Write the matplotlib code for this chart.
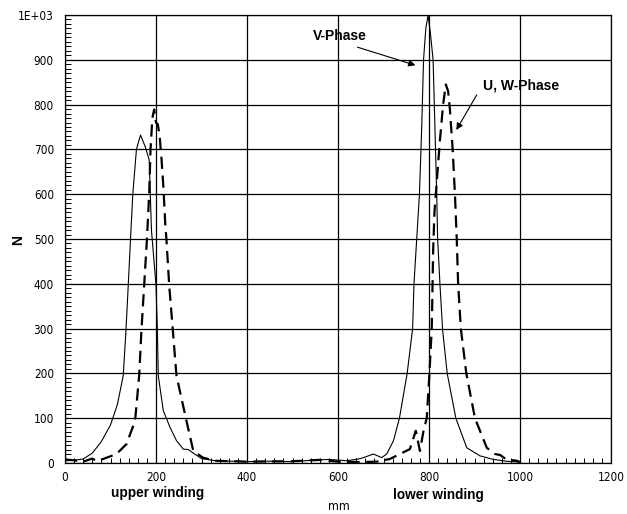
import numpy as np
import matplotlib.pyplot as plt
from matplotlib.ticker import MultipleLocator, FixedLocator

# V-Phase (solid line)
v_x = [0, 20, 40, 60, 80, 100, 115, 128, 134, 139, 145, 149, 157, 166, 176, 185,
       190, 200, 203, 205, 216, 231, 245, 260, 271, 285, 300, 330, 400, 450, 500,
       540, 580, 620, 650, 678, 696, 707, 722, 735, 752, 764, 767, 773, 779, 784,
       788, 793, 798, 803, 809, 813, 817, 819, 824, 830, 840, 859, 883, 912, 941,
       970, 1000]
v_y = [5, 6, 9, 22, 48, 85, 130, 195, 296, 397, 520, 600, 700, 732, 707, 677,
       520, 397, 296, 195, 117, 79, 50, 31, 30, 20, 10, 5, 3, 4, 3,
       6, 8, 5, 10, 20, 12, 20, 50, 100, 200, 300, 400, 500, 600, 750,
       900, 970, 1000, 960, 900, 750, 600, 500, 400, 296, 200, 100, 34, 16, 8,
       4, 2]

# U, W-Phase (dashed line)
uw_x = [0, 20, 40, 60, 70, 84, 113, 135, 154, 163, 168, 174, 180, 185, 188,
        192, 196, 200, 204, 208, 212, 216, 220, 223, 229, 237, 245, 267, 282,
        303, 330, 400, 500, 560, 600, 650, 685, 714, 736, 758, 771, 780, 788,
        795, 801, 806, 807, 809, 812, 818, 824, 831, 837, 842, 846, 852, 857,
        861, 864, 870, 882, 901, 927, 945, 956, 970, 993, 1000]
uw_y = [8, 6, 3, 10, 4, 9, 20, 42, 94, 195, 296, 397, 498, 600, 700,
        770, 789, 760, 756, 730, 680, 620, 540, 498, 397, 296, 195, 94, 27,
        12, 5, 3, 4, 7, 3, 2, 3, 9, 20, 31, 72, 27, 72,
        100, 200, 300, 350, 470, 560, 640, 720, 800, 845, 830, 789, 700, 600,
        500, 400, 300, 200, 100, 34, 20, 18, 8, 5, 2]

x_ticks = [0, 200, 400, 600, 800, 1000, 1200]
y_ticks = [0, 100, 200, 300, 400, 500, 600, 700, 800, 900, 1000]
y_labels = ['0', '100', '200', '300', '400', '500', '600', '700', '800', '900', '1E+03']

plt.rcParams['font.family'] = ['DejaVu Sans']
bold_font = ['Liberation Sans', 'DejaVu Sans']

fig = plt.figure(figsize=(6.27, 5.14), dpi=100)
ax = fig.add_axes([65 / 627, 1 - 463 / 514, 546 / 627, 448 / 514])

ax.plot(v_x, v_y, color='black', linewidth=0.8)
ax.plot(uw_x, uw_y, color='black', linewidth=1.6, linestyle=(0, (5.5, 3)))

ax.set_xlim(0, 1200)
ax.set_ylim(0, 1000)
ax.xaxis.set_major_locator(FixedLocator(x_ticks))
ax.yaxis.set_major_locator(FixedLocator(y_ticks))
ax.set_yticklabels(y_labels)
ax.xaxis.set_minor_locator(MultipleLocator(20))
ax.yaxis.set_minor_locator(MultipleLocator(10))
ax.tick_params(which='both', direction='in', labelsize=8.5, color='black')
ax.tick_params(which='major', length=0, pad=8)
ax.tick_params(axis='x', which='major', pad=6)
ax.tick_params(axis='y', which='minor', length=4.5, width=0.7)
ax.tick_params(axis='x', which='minor', length=3.5, width=0.7)
for lab in ax.get_xticklabels() + ax.get_yticklabels():
    lab.set_fontstretch('condensed')
ax.grid(True, which='major', color='black', linewidth=0.9)
for s in ax.spines.values():
    s.set_linewidth(0.9)

# annotations
ax.text(545, 953, 'V-Phase', fontsize=10, fontweight='bold',
        family=bold_font, va='center', ha='left')
ax.annotate('', xy=(776, 886), xytext=(637, 930),
            arrowprops=dict(arrowstyle='-|>', color='black', lw=0.8,
                            mutation_scale=10))
ax.text(1002, 843, 'U, W-Phase', fontsize=10, fontweight='bold',
        family=bold_font, va='center', ha='center')
ax.annotate('', xy=(857, 738), xytext=(908, 827),
            arrowprops=dict(arrowstyle='-|>', color='black', lw=0.8,
                            mutation_scale=10))

fig.text(158 / 627, 1 - 493 / 514, 'upper winding', fontsize=9.8, fontweight='bold',
         family=bold_font, ha='center', va='center')
fig.text(438 / 627, 1 - 495 / 514, 'lower winding', fontsize=9.8, fontweight='bold',
         family=bold_font, ha='center', va='center')
fig.text(339 / 627, 1 - 507 / 514, 'mm', fontsize=9, fontstretch='condensed',
         ha='center', va='center')
fig.text(18 / 627, 1 - 240 / 514, 'N', fontsize=10, fontweight='bold', rotation=90,
         family=bold_font, ha='center', va='center')

fig.savefig('out.png', dpi=100)
